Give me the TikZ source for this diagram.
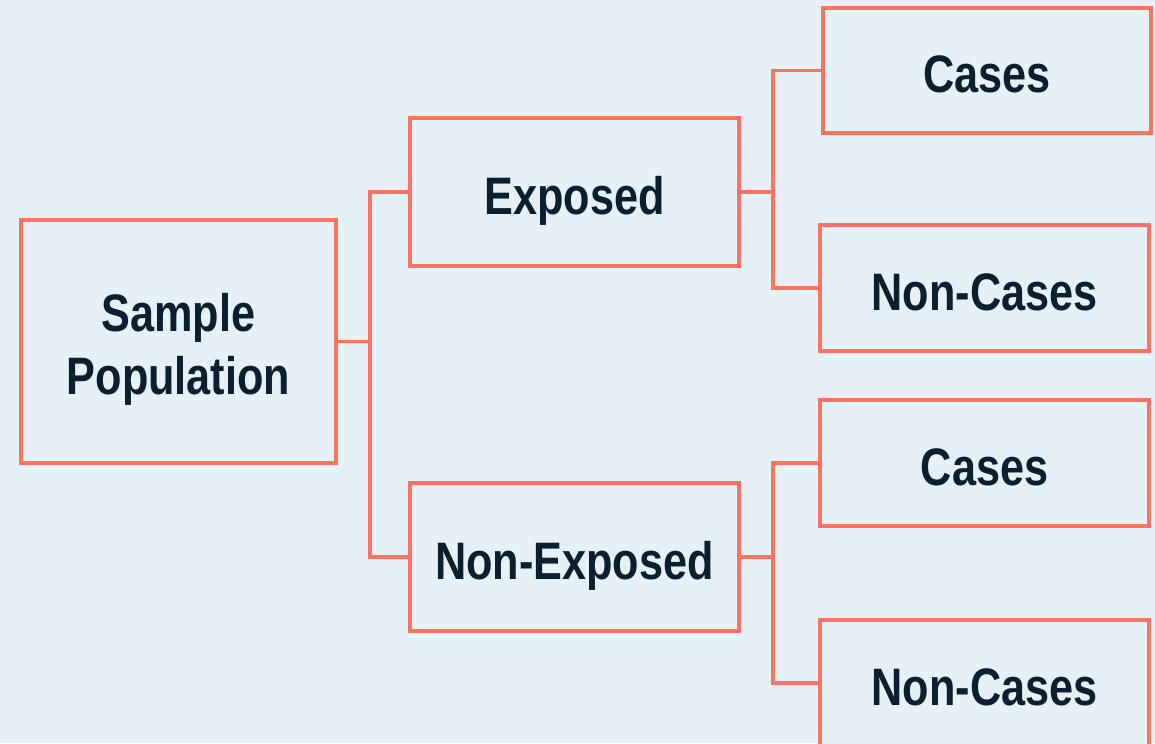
\documentclass[tikz,border=0pt]{standalone}
\usepackage{fontspec}
\newfontfamily\labelfont{Liberation Sans}[FakeStretch=0.82]
\definecolor{bgblue}{HTML}{E6F1F7}
\definecolor{salmon}{HTML}{FF7263}
\definecolor{inkblue}{HTML}{0B1F2E}
\begin{document}
\begin{tikzpicture}[x=0.03cm,y=-0.03cm,
  box/.style={draw=salmon,line width=0.11cm,fill=bgblue,inner sep=0pt,outer sep=0pt,
    text=inkblue,align=center,font=\labelfont\bfseries\fontsize{45}{54}\selectfont,
    text height=38.3pt,text depth=0pt},
  twoline/.style={text height=91pt,text depth=0pt},
  link/.style={draw=salmon,line width=0.11cm}]
\fill[bgblue] (0,0) rectangle (1155,743);
\useasboundingbox (0,0) rectangle (1155,743);
\clip (0,0) rectangle (1155,743);

% root and first split
\node[box,twoline,minimum width=9.45cm,minimum height=7.29cm] (sp) at (178.5,341.5) {Sample\\Population};
\node[box,minimum width=9.87cm,minimum height=4.44cm] (exp) at (574.5,192) {Exposed};
\node[box,minimum width=9.87cm,minimum height=4.44cm] (nexp) at (574.5,557) {Non-Exposed};

% outcome boxes
\node[box,minimum width=9.84cm,minimum height=3.75cm] (c1) at (987,70.5) {Cases};
\node[box,minimum width=9.87cm,minimum height=3.78cm] (nc1) at (984.5,288) {Non-Cases};
\node[box,minimum width=9.87cm,minimum height=3.78cm] (c2) at (984.5,463) {Cases};
\node[box,minimum width=9.87cm,minimum height=3.78cm] (nc2) at (984.5,683) {Non-Cases};

% junction points of the bracket connectors
\coordinate (j1) at (370,341.5);
\coordinate (j2) at (773,192);
\coordinate (j3) at (773,557);

\draw[link] (sp.east) -- (j1);
\draw[link] (exp.west) -| (j1) |- (nexp.west);
\draw[link] (exp.east) -- (j2);
\draw[link] (c1.west) -| (j2) |- (nc1.west);
\draw[link] (nexp.east) -- (j3);
\draw[link] (c2.west) -| (j3) |- (nc2.west);
\end{tikzpicture}
\end{document}
